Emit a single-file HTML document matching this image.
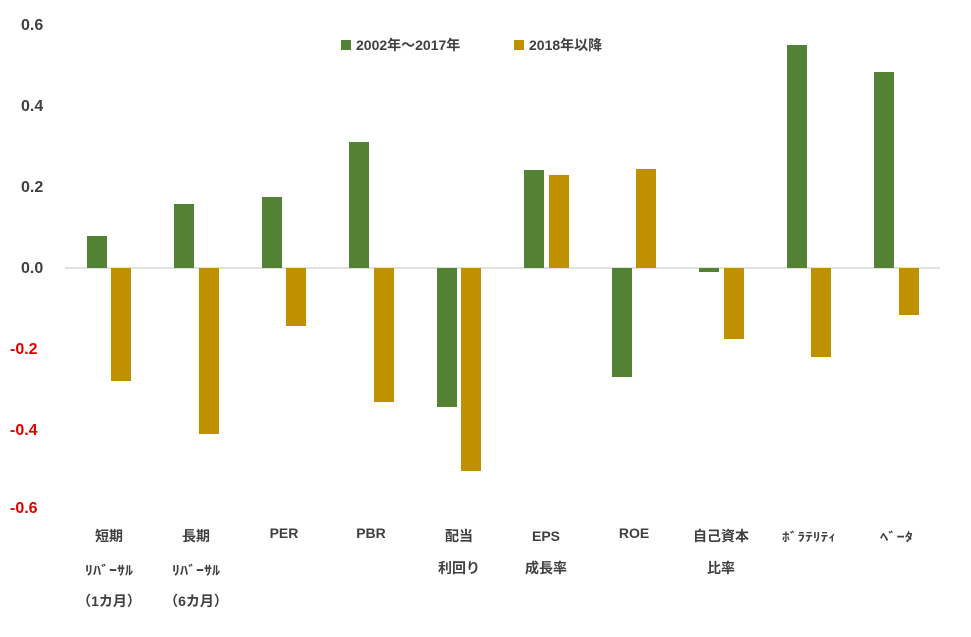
<!DOCTYPE html>
<html><head><meta charset="utf-8"><style>
body{margin:0;background:#fff;}
svg text{font-family:"Liberation Sans","Noto Sans CJK JP",sans-serif;font-weight:bold;}
</style></head><body>
<svg width="971" height="632" xmlns="http://www.w3.org/2000/svg">
<rect width="971" height="632" fill="#fff"/>
<g font-size="16" fill="#404040" text-anchor="start">
<text x="21" y="30">0.6</text>
<text x="21" y="111">0.4</text>
<text x="21" y="192">0.2</text>
<text x="21" y="273">0.0</text>
<text x="10" y="354" fill="#e00000">-0.2</text>
<text x="10" y="435" fill="#e00000">-0.4</text>
<text x="10" y="513" fill="#e00000">-0.6</text>
</g>
<line x1="65" y1="268" x2="940" y2="268" stroke="#d9d9d9" stroke-width="1.5"/>
<g fill="#548235">
<rect x="87" y="236" width="20" height="32"/>
<rect x="174" y="204" width="20" height="64"/>
<rect x="262" y="197" width="20" height="71"/>
<rect x="349" y="142" width="20" height="126"/>
<rect x="437" y="268" width="20" height="139"/>
<rect x="524" y="170" width="20" height="98"/>
<rect x="612" y="268" width="20" height="109"/>
<rect x="699" y="268" width="20" height="4"/>
<rect x="787" y="45" width="20" height="223"/>
<rect x="874" y="72" width="20" height="196"/>
</g>
<g fill="#bf9000">
<rect x="111" y="268" width="20" height="113"/>
<rect x="199" y="268" width="20" height="166"/>
<rect x="286" y="268" width="20" height="58"/>
<rect x="374" y="268" width="20" height="134"/>
<rect x="461" y="268" width="20" height="203"/>
<rect x="549" y="175" width="20" height="93"/>
<rect x="636" y="169" width="20" height="99"/>
<rect x="724" y="268" width="20" height="71"/>
<rect x="811" y="268" width="20" height="89"/>
<rect x="899" y="268" width="20" height="47"/>
</g>
<rect x="341" y="40" width="10" height="10" fill="#548235"/>
<text x="356" y="50" font-size="14" fill="#404040">2002年～2017年</text>
<rect x="514" y="40" width="10" height="10" fill="#bf9000"/>
<text x="529" y="50" font-size="14" fill="#404040">2018年以降</text>
<g font-size="14" fill="#404040" text-anchor="middle">
<text x="109" y="541">短期</text><text x="85" y="575" font-size="13" text-anchor="start" textLength="48" lengthAdjust="spacingAndGlyphs">ﾘﾊﾞｰｻﾙ</text><text x="109" y="606">（1カ月）</text>
<text x="196" y="541">長期</text><text x="172" y="575" font-size="13" text-anchor="start" textLength="48" lengthAdjust="spacingAndGlyphs">ﾘﾊﾞｰｻﾙ</text><text x="196" y="606">（6カ月）</text>
<text x="284" y="538">PER</text>
<text x="371" y="538">PBR</text>
<text x="459" y="541">配当</text><text x="459" y="573">利回り</text>
<text x="546" y="541">EPS</text><text x="546" y="573">成長率</text>
<text x="634" y="538">ROE</text>
<text x="721" y="541">自己資本</text><text x="721" y="573">比率</text>
<text x="782" y="541" font-size="12" text-anchor="start" textLength="54" lengthAdjust="spacingAndGlyphs">ﾎﾞﾗﾃﾘﾃｨ</text>
<text x="880" y="541" font-size="12" text-anchor="start" textLength="33" lengthAdjust="spacingAndGlyphs">ﾍﾞｰﾀ</text>
</g>
</svg>
</body></html>
